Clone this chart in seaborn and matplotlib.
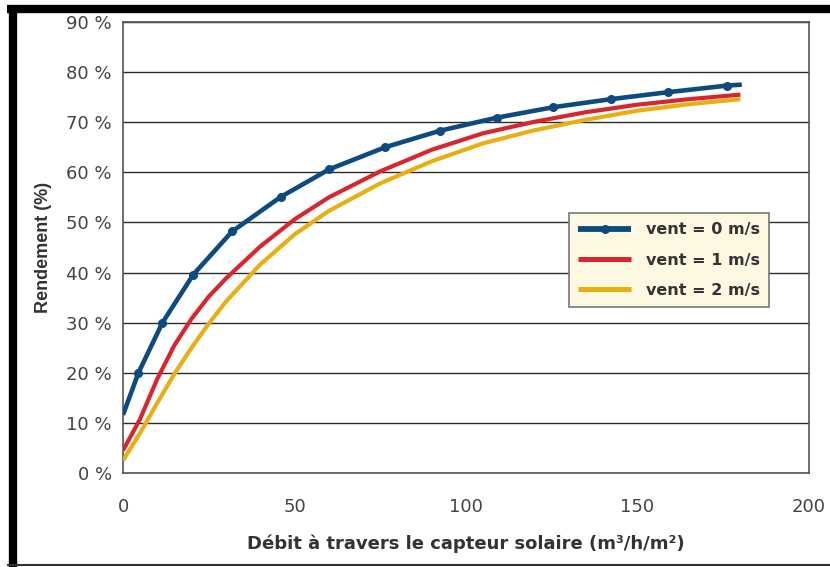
import matplotlib
matplotlib.use("Agg")
import matplotlib.pyplot as plt
import seaborn as sns
import pandas as pd
from matplotlib.lines import Line2D

# ---- data ----
x_v0 = [0, 4.5, 11.5, 20.5, 31.8, 46.0, 60.1, 76.4, 92.4, 108.9, 125.5, 142.2, 159.0, 176.0, 180.4]
y_v0 = [11.6, 20.0, 30.0, 39.6, 48.2, 55.1, 60.6, 65.0, 68.3, 70.9, 73.0, 74.6, 76.0, 77.3, 77.5]

x_v12 = [0, 5, 10, 15, 20, 25, 30, 40, 50, 60, 75, 90, 105, 120, 135, 150, 165, 180]
y_v1 = [4.5, 10.8, 18.8, 25.5, 30.8, 35.2, 38.8, 45.2, 50.6, 55.0, 60.2, 64.5, 67.8, 70.1, 72.0, 73.5, 74.6, 75.5]
y_v2 = [2.5, 8.0, 14.0, 19.8, 25.0, 29.8, 34.2, 41.6, 47.6, 52.3, 57.8, 62.2, 65.8, 68.4, 70.5, 72.3, 73.6, 74.6]

series_names = ["vent = 0 m/s", "vent = 1 m/s", "vent = 2 m/s"]
x_ticks = [0, 50, 100, 150, 200]
y_ticks = [0, 10, 20, 30, 40, 50, 60, 70, 80, 90]
y_tick_labels = ["0 %", "10 %", "20 %", "30 %", "40 %", "50 %", "60 %", "70 %", "80 %", "90 %"]
x_label = "Débit à travers le capteur solaire (m³/h/m²)"
y_label = "Rendement (%)"

colors = ["#0c4a80", "#d8262e", "#e9ae12"]

df0 = pd.DataFrame({"x": x_v0, "y": y_v0})
df1 = pd.DataFrame({"x": x_v12, "y": y_v1})
df2 = pd.DataFrame({"x": x_v12, "y": y_v2})

sns.set_style("white")
plt.rcParams["font.family"] = ["DejaVu Sans"]

fig = plt.figure(figsize=(8.30, 5.67), dpi=100)
ax = fig.add_axes([0.1482, 0.1658, 0.8265, 0.7954])

sns.lineplot(data=df2, x="x", y="y", ax=ax, color=colors[2], linewidth=3.0,
             solid_capstyle="butt", zorder=3)
sns.lineplot(data=df1, x="x", y="y", ax=ax, color=colors[1], linewidth=3.0,
             solid_capstyle="butt", zorder=4)
sns.lineplot(data=df0, x="x", y="y", ax=ax, color=colors[0], linewidth=3.3,
             solid_capstyle="butt", marker="o", markersize=6.5, markeredgewidth=0,
             markevery=list(range(1, len(x_v0) - 1)), zorder=5)

ax.set_xlim(0, 200)
ax.set_ylim(0, 90)
ax.set_xticks(x_ticks)
ax.set_yticks(y_ticks)
ax.set_yticklabels(y_tick_labels)
ax.grid(axis="y", color="#2a2a2a", linewidth=1.0)
ax.set_axisbelow(True)
for s in ax.spines.values():
    s.set_visible(True)
    s.set_color("#555555")
    s.set_linewidth(1.2)
ax.tick_params(axis="both", which="major", direction="out", length=5, width=1.2,
               color="#444444", labelcolor="#444444", labelsize=13)
ax.tick_params(axis="y", pad=3)
ax.tick_params(axis="x", pad=13)

ax.set_xlabel(x_label, fontsize=13, fontweight="bold", color="#333333", labelpad=13)
ax.set_ylabel(y_label, fontsize=13, fontweight="bold", color="#333333", labelpad=10,
              family=["Liberation Sans", "DejaVu Sans"])

handles = [
    Line2D([0, 0.5, 1], [0, 0, 0], color=colors[0], linewidth=4.2, marker="o",
           markersize=6.5, markevery=[1], markeredgewidth=0, solid_capstyle="butt"),
    Line2D([0], [0], color=colors[1], linewidth=3.6, solid_capstyle="butt"),
    Line2D([0], [0], color=colors[2], linewidth=3.6, solid_capstyle="butt"),
]
leg = ax.legend(handles, series_names, loc="upper left", bbox_to_anchor=(0.65, 0.577),
                borderaxespad=0, frameon=True, fancybox=False, handlelength=3.3,
                handletextpad=0.9, labelspacing=0.95, borderpad=0.6,
                prop={"size": 11.5, "weight": "bold"})
leg.get_frame().set_facecolor("#fdf8e2")
leg.get_frame().set_edgecolor("#777777")
leg.get_frame().set_linewidth(1.2)
leg.get_frame().set_alpha(1)
for t in leg.get_texts():
    t.set_color("#333333")

# outer frame of the figure (thick black top / left, thin bottom)
fig.add_artist(Line2D([0.0084, 1.0], [0.984, 0.984], transform=fig.transFigure,
                      color="black", linewidth=6, solid_capstyle="butt"))
fig.add_artist(Line2D([0.0155, 0.0155], [0.0, 0.989], transform=fig.transFigure,
                      color="black", linewidth=6, solid_capstyle="butt"))
fig.add_artist(Line2D([0.0084, 1.0], [0.0035, 0.0035], transform=fig.transFigure,
                      color="#333333", linewidth=1.5, solid_capstyle="butt"))

fig.savefig("out.png", dpi=100)
